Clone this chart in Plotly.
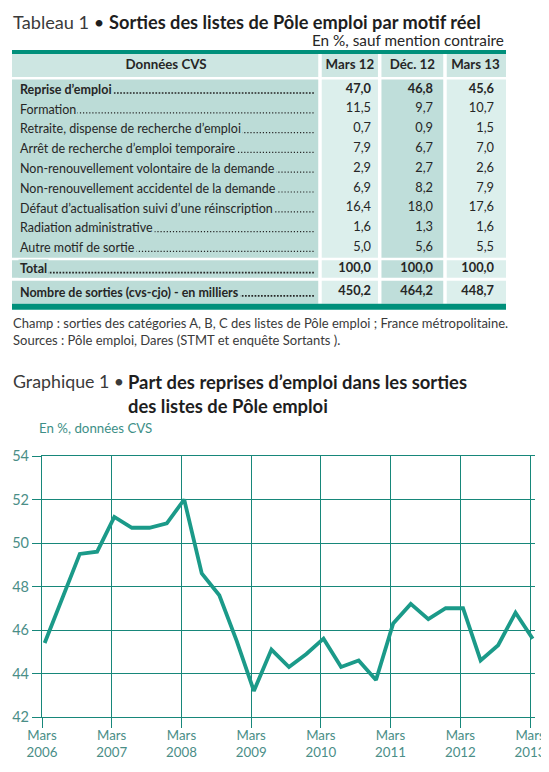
import plotly.graph_objects as go

# the page body has an 8px margin: the figure is sized to the remaining window
WIN_W, WIN_H, OFF = 549, 772, 8
W, H = WIN_W - OFF, WIN_H - OFF
FONT = "Lato"

# ---- Tableau 1 data ----
col_headers = ["Données CVS", "Mars 12", "Déc. 12", "Mars 13"]
row_labels = [
    "Reprise d’emploi",
    "Formation",
    "Retraite, dispense de recherche d’emploi",
    "Arrêt de recherche d’emploi temporaire",
    "Non-renouvellement volontaire de la demande",
    "Non-renouvellement accidentel de la demande",
    "Défaut d’actualisation suivi d’une réinscription",
    "Radiation administrative",
    "Autre motif de sortie",
    "Total",
    "Nombre de sorties (cvs-cjo) - en milliers",
]
bold_rows = [0, 9, 10]
mars12 = [47.0, 11.5, 0.7, 7.9, 2.9, 6.9, 16.4, 1.6, 5.0, 100.0, 450.2]
dec12 = [46.8, 9.7, 0.9, 6.7, 2.7, 8.2, 18.0, 1.3, 5.6, 100.0, 464.2]
mars13 = [45.6, 10.7, 1.5, 7.0, 2.6, 7.9, 17.6, 1.6, 5.5, 100.0, 448.7]

# ---- Graphique 1 data ----
quarters = [
    "2006-03-15", "2006-06-15", "2006-09-15", "2006-12-15",
    "2007-03-15", "2007-06-15", "2007-09-15", "2007-12-15",
    "2008-03-15", "2008-06-15", "2008-09-15", "2008-12-15",
    "2009-03-15", "2009-06-15", "2009-09-15", "2009-12-15",
    "2010-03-15", "2010-06-15", "2010-09-15", "2010-12-15",
    "2011-03-15", "2011-06-15", "2011-09-15", "2011-12-15",
    "2012-03-15", "2012-06-15", "2012-09-15", "2012-12-15",
    "2013-03-15",
]
reprise = [
    45.4, 47.5, 49.5, 49.6,
    51.2, 50.7, 50.7, 50.9,
    52.0, 48.6, 47.6, 45.5,
    43.2, 45.1, 44.3, 44.9,
    45.6, 44.3, 44.6, 43.7,
    46.3, 47.2, 46.5, 47.0,
    47.0, 44.6, 45.3, 46.8,
    45.6,
]
year_ticks = ["2006-03-01", "2007-03-01", "2008-03-01", "2009-03-01",
              "2010-03-01", "2011-03-01", "2012-03-01", "2013-03-01"]
year_labels = ["Mars<br>2006", "Mars<br>2007", "Mars<br>2008", "Mars<br>2009",
               "Mars<br>2010", "Mars<br>2011", "Mars<br>2012", "Mars<br>2013"]

TEAL = "#00907b"
LINE = "#1b9a89"
GRID = "#17877a"
TXT = "#262626"
TICK = "#4a8e87"
HDR_FILL = "#cde6e2"
COL_FILLS = ["#bcdcd7", "#dcefec", "#bfdeda", "#dcefec"]


def px(p):
    # window pixel column -> paper x
    return (p - OFF) / W


def py(p):
    # window pixel row -> paper y
    return 1 - (p - OFF) / H


def fmt(v):
    return f"{v:.1f}".replace(".", ",")


def b(s, bold):
    return f"<b>{s}</b>" if bold else s


# ---- table geometry (window pixels) ----
col_edges = [12, 320, 379.7, 445, 506]
gutter = 3.5
num_right = [371, 433, 494]
label_x = 18
leader_end = 314
tbl_top, hdr_bot = 54, 77
body_top = 79.5
row_heights = [19.8] * 9 + [17.5, 23]
gap_before = {9: 2.5, 10: 3}

row_top, row_bot = [], []
y = body_top
for i, h in enumerate(row_heights):
    y += gap_before.get(i, 0)
    row_top.append(y)
    row_bot.append(y + h)
    y += h
tbl_bot = y
row_mid = [(t + bt) / 2 for t, bt in zip(row_top, row_bot)]

blocks = [(tbl_top, hdr_bot), (row_top[0], row_bot[8]), (row_top[9], row_bot[9]), (row_top[10], row_bot[10])]

fig = go.Figure()

shapes = []
for k, (y0, y1) in enumerate(blocks):
    for c in range(4):
        x0 = col_edges[c] + (gutter / 2 if c > 0 else 0)
        x1 = col_edges[c + 1] - (gutter / 2 if c < 3 else 0)
        shapes.append(dict(type="rect", xref="x2", yref="y2", layer="below",
                           x0=x0, x1=x1, y0=y0, y1=y1, line=dict(width=0),
                           fillcolor=HDR_FILL if k == 0 else COL_FILLS[c]))
# teal rules top and bottom
shapes.append(dict(type="rect", xref="x2", yref="y2", layer="below",
                   x0=col_edges[0], x1=col_edges[-1], y0=tbl_top - 4, y1=tbl_top,
                   line=dict(width=0), fillcolor=TEAL))
shapes.append(dict(type="rect", xref="x2", yref="y2", layer="below",
                   x0=col_edges[0], x1=col_edges[-1], y0=tbl_bot, y1=tbl_bot + 6,
                   line=dict(width=0), fillcolor=TEAL))

# header texts
fig.add_trace(go.Scatter(
    x=[(col_edges[c] + col_edges[c + 1]) / 2 for c in range(4)],
    y=[(tbl_top + hdr_bot) / 2] * 4,
    text=[f"<b>{h}</b>" for h in col_headers],
    mode="text", textposition="middle center",
    textfont=dict(family=FONT, size=13.3, color=TXT),
    xaxis="x2", yaxis="y2", hoverinfo="skip", showlegend=False,
))

# dotted leaders on the text baseline, running under the labels
for bold in (False, True):
    lx, ly = [], []
    for i in range(len(row_labels)):
        if (i in bold_rows) != bold:
            continue
        lx += [label_x + 3, leader_end, None]
        ly += [row_mid[i] + 3.6, row_mid[i] + 3.6, None]
    fig.add_trace(go.Scatter(
        x=lx, y=ly, mode="lines",
        line=dict(color=TXT, width=1.7 if bold else 1.2,
                  dash="1.7px,1.5px" if bold else "1.2px,1.9px"),
        xaxis="x2", yaxis="y2", hoverinfo="skip", showlegend=False,
    ))

# numbers
for c, vals in enumerate([mars12, dec12, mars13]):
    fig.add_trace(go.Scatter(
        x=[num_right[c]] * len(vals),
        y=row_mid,
        text=[b(fmt(v), i in bold_rows) for i, v in enumerate(vals)],
        mode="text", textposition="middle left",
        textfont=dict(family=FONT, size=12.8, color=TXT),
        xaxis="x2", yaxis="y2", hoverinfo="skip", showlegend=False,
    ))

# line chart
fig.add_trace(go.Scatter(
    x=quarters, y=reprise,
    mode="lines",
    line=dict(color=LINE, width=3.8),
    showlegend=False,
    hoverinfo="skip",
))

annotations = []
# row labels sit on a patch of the column colour, hiding the leader dots behind them
for i, lab in enumerate(row_labels):
    annotations.append(dict(
        text=b(lab, i in bold_rows), xref="x2", yref="y2",
        x=label_x, y=row_mid[i], xanchor="left", yanchor="middle",
        bgcolor=COL_FILLS[0], borderpad=1,
        font=dict(family=FONT, size=12.5, color=TXT)))

page_text = [
    dict(text="<span style='color:#3a3a3a'>Tableau 1 </span>• <b>Sorties des listes de Pôle emploi par motif réel</b>",
         x=px(11), y=py(8.5), xanchor="left", yanchor="top",
         font=dict(family=FONT, size=18.2, color="#1e1e1e")),
    dict(text="En %, sauf mention contraire",
         x=px(506), y=py(40), xanchor="right", yanchor="middle",
         font=dict(family=FONT, size=15.3, color=TXT)),
    dict(text="Champ : sorties des catégories A, B, C des listes de Pôle emploi ; France métropolitaine.<br>"
              "Sources : Pôle emploi, Dares (STMT et enquête Sortants ).",
         x=px(11), y=py(313), xanchor="left", yanchor="top", align="left",
         font=dict(family=FONT, size=13, color="#3a3a3a")),
    dict(text="Graphique 1 •",
         x=px(11), y=py(381), xanchor="left", yanchor="middle",
         font=dict(family=FONT, size=17.8, color="#3a3a3a")),
    dict(text="<b>Part des reprises d’emploi dans les sorties<br>des listes de Pôle emploi</b>",
         x=px(126), y=py(369), xanchor="left", yanchor="top", align="left",
         font=dict(family=FONT, size=18.4, color="#1e1e1e")),
    dict(text="En %, données CVS",
         x=px(37), y=py(428), xanchor="left", yanchor="middle",
         font=dict(family=FONT, size=13.3, color="#3d8f87")),
]
for a in page_text:
    a.update(xref="paper", yref="paper")
annotations += page_text
for a in annotations:
    a["showarrow"] = False

hidden = dict(visible=False, showgrid=False, zeroline=False, fixedrange=True)

fig.update_layout(
    width=W, height=H,
    autosize=False,
    margin=dict(l=0, r=0, t=0, b=0, autoexpand=False),
    paper_bgcolor="white",
    plot_bgcolor="rgba(0,0,0,0)",
    showlegend=False,
    shapes=shapes,
    annotations=annotations,
    xaxis=dict(
        domain=[px(42), px(535)],
        range=["2006-03-01", "2013-03-27"],
        tickvals=year_ticks,
        ticktext=year_labels,
        automargin=False,
        showgrid=True, gridcolor=GRID, gridwidth=1.2,
        showline=True, linecolor=GRID, linewidth=1.2, mirror=True,
        ticks="outside", ticklen=10, tickcolor=GRID, tickwidth=1.2,
        ticklabelstandoff=-4,
        zeroline=False,
        tickfont=dict(family=FONT, size=13.3, color=TICK),
    ),
    yaxis=dict(
        domain=[py(717), py(456)],
        range=[42, 54],
        dtick=2,
        automargin=False,
        showgrid=True, gridcolor=GRID, gridwidth=1.2,
        showline=True, linecolor=GRID, linewidth=1.2,
        ticks="outside", ticklen=9, tickcolor=GRID, tickwidth=1.2,
        zeroline=False,
        tickfont=dict(family=FONT, size=14.5, color=TICK),
    ),
    xaxis2=dict(hidden, domain=[px(col_edges[0]), px(col_edges[-1])],
                range=[col_edges[0], col_edges[-1]], anchor="y2"),
    yaxis2=dict(hidden, domain=[py(tbl_bot + 8), py(tbl_top - 6)],
                range=[tbl_bot + 8, tbl_top - 6], anchor="x2"),
)

fig.write_html("out.html")
